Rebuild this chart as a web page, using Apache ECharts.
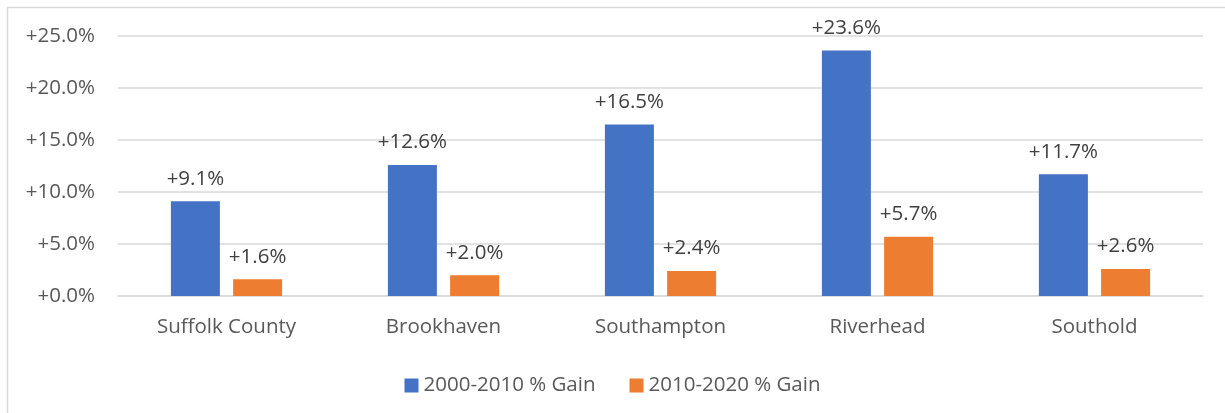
<!DOCTYPE html>
<html>
<head>
<meta charset="utf-8">
<script src="https://cdn.jsdelivr.net/npm/echarts@6/dist/echarts.min.js"></script>
<style>
  html, body { margin: 0; padding: 0; background: #fff; }
  #chart { width: 1225px; height: 413px; }
</style>
</head>
<body>
<div id="chart"></div>
<script>
// data
var towns = ["Suffolk County", "Brookhaven", "Southampton", "Riverhead", "Southold"];
var gain2000s = [9.1, 12.6, 16.5, 23.6, 11.7];
var gain2010s = [1.6, 2.0, 2.4, 5.7, 2.6];
var seriesNames = ["2000-2010 % Gain", "2010-2020 % Gain"];

var fontName = "Open Sans";
var fs = 20.5;
var myChart = echarts.init(document.getElementById("chart"));

function pct(v) {
  return "+" + Number(v).toFixed(1) + "%";
}

var option = {
  animation: false,
  textStyle: { fontFamily: fontName },
  graphic: [
    {
      // chart frame, cut off at right and bottom like the screenshot
      type: "rect",
      shape: { x: 7.5, y: 7.5, width: 1240, height: 420 },
      style: { fill: "none", stroke: "#d9d9d9", lineWidth: 1.5 },
      silent: true,
    },
  ],
  grid: { left: 118, right: 22, top: 36, bottom: 117, containLabel: false },
  legend: {
    top: 370,
    left: "center",
    itemWidth: 14,
    itemHeight: 14,
    itemGap: 34,
    icon: "rect",
    textStyle: { fontSize: fs, color: "#595959", fontFamily: fontName },
    data: seriesNames,
  },
  xAxis: {
    type: "category",
    data: towns,
    axisLine: { lineStyle: { color: "#d9d9d9", width: 1.5 } },
    axisTick: { show: false },
    axisLabel: { fontSize: fs, color: "#595959", margin: 21, fontFamily: fontName },
  },
  yAxis: {
    type: "value",
    min: 0,
    max: 25,
    interval: 5,
    axisLine: { show: false },
    axisTick: { show: false },
    splitLine: { lineStyle: { color: "#d9d9d9", width: 1.5 } },
    axisLabel: {
      fontSize: fs,
      color: "#595959",
      margin: 23,
      fontFamily: fontName,
      formatter: pct,
    },
  },
  series: [
    {
      name: seriesNames[0],
      type: "bar",
      data: gain2000s,
      barWidth: 49,
      barGap: "27%",
      itemStyle: { color: "#4472c4" },
      label: {
        show: true,
        position: "top",
        distance: 12,
        fontSize: fs,
        color: "#404040",
        fontFamily: fontName,
        formatter: function (p) { return pct(p.value); },
      },
    },
    {
      name: seriesNames[1],
      type: "bar",
      data: gain2010s,
      barWidth: 49,
      itemStyle: { color: "#ed7d31" },
      label: {
        show: true,
        position: "top",
        distance: 12,
        fontSize: fs,
        color: "#404040",
        fontFamily: fontName,
        formatter: function (p) { return pct(p.value); },
      },
    },
  ],
};

myChart.setOption(option);
</script>
</body>
</html>
